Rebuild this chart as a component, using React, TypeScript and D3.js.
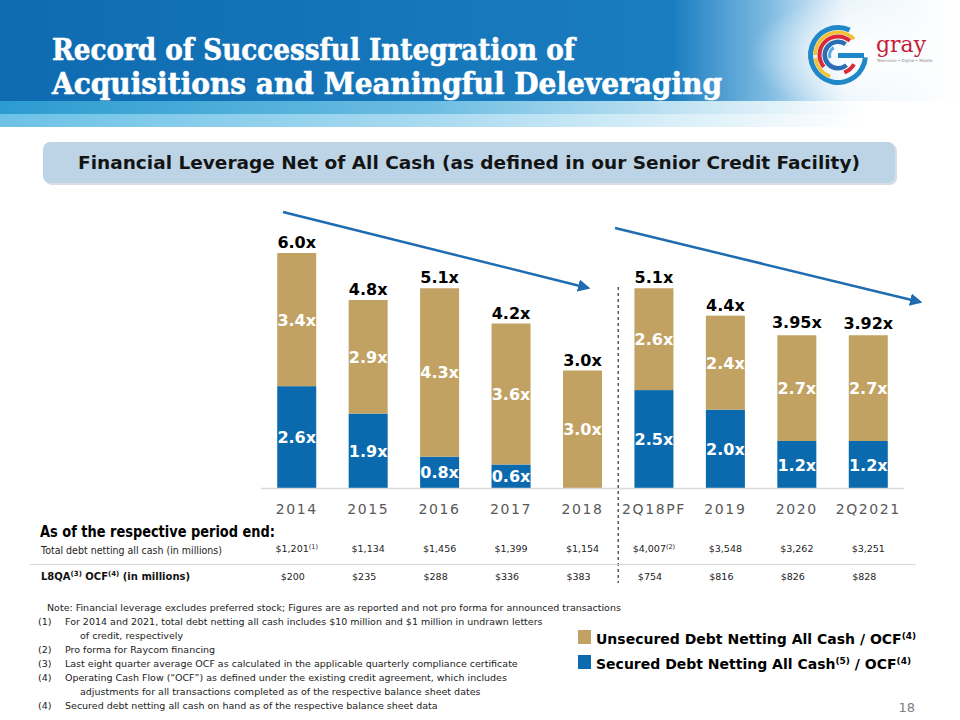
import React from "react";
import * as d3 from "d3";

const categories = ["2014", "2015", "2016", "2017", "2018", "2Q18PF", "2019", "2020", "2Q2021"];
const securedValues = [2.6, 1.9, 0.8, 0.6, 0, 2.5, 2.0, 1.2, 1.2];
const unsecuredValues = [3.4, 2.9, 4.3, 3.6, 3.0, 2.6, 2.4, 2.7, 2.7];
const totalValues = [6.0, 4.8, 5.1, 4.2, 3.0, 5.1, 4.4, 3.95, 3.92];
const totalLabels = ["6.0x", "4.8x", "5.1x", "4.2x", "3.0x", "5.1x", "4.4x", "3.95x", "3.92x"];
const totalDebt = ["$1,201", "$1,134", "$1,456", "$1,399", "$1,154", "$4,007", "$3,548", "$3,262", "$3,251"];
const totalDebtNotes = ["(1)", "", "", "", "", "(2)", "", "", ""];
const ocfValues = ["$200", "$235", "$288", "$336", "$383", "$754", "$816", "$826", "$828"];

const noteLines = [
  "Note: Financial leverage excludes preferred stock; Figures are as reported and not pro forma for announced transactions",
];
const footnotes = [
  ["(1)", "For 2014 and 2021, total debt netting all cash includes $10 million and $1 million in undrawn letters", "of credit, respectively"],
  ["(2)", "Pro forma for Raycom financing"],
  ["(3)", "Last eight quarter average OCF as calculated in the applicable quarterly compliance certificate"],
  ["(4)", "Operating Cash Flow (\u201cOCF\u201d) as defined under the existing credit agreement, which includes", "adjustments for all transactions completed as of the respective balance sheet dates"],
  ["(4)", "Secured debt netting all cash on hand as of the respective balance sheet data"],
];

const GOLD = "#C2A263";
const BLUE = "#0A6AAD";
const SANS = "'DejaVu Sans', Verdana, sans-serif";

export default function App() {
  const x = d3.scaleBand<string>().domain(categories).range([261, 904]).paddingInner(0.454).paddingOuter(0.227);
  const y = d3.scaleLinear().domain([0, 6]).range([488, 253]);
  const rows = categories.map((c, i) => ({ cat: c, secured: securedValues[i], unsecured: unsecuredValues[i] }));
  const stack = d3.stack<any>().keys(["secured", "unsecured"])(rows);
  const bw = x.bandwidth();
  const cx = (c: string) => (x(c) as number) + bw / 2;
  const dividerX = ((x("2018") as number) + bw + (x("2Q18PF") as number)) / 2;

  const arc = d3.arc<any>();
  const deg = (a: number) => (a * Math.PI) / 180;
  const logoArcs = [
    { r0: 25, r1: 30, a0: 95, a1: 385, c: "#1E88C8" },
    { r0: 21, r1: 24.5, a0: 270, a1: 405, c: "#F2C230" },
    { r0: 21, r1: 24.5, a0: 200, a1: 262, c: "#F2C230" },
    { r0: 16.5, r1: 20.5, a0: 230, a1: 400, c: "#D9293A" },
    { r0: 16.5, r1: 20.5, a0: 120, a1: 160, c: "#D9293A" },
    { r0: 11, r1: 15.5, a0: 140, a1: 395, c: "#2A6FB5" },
    { r0: 7, r1: 10, a0: 250, a1: 330, c: "#5AA9DE" },
  ];

  return (
    <svg width={960} height={720} style={{ position: "absolute", left: 0, top: 0 }} fontFamily={SANS}>
      <defs>
        <linearGradient id="hdr" x1="0" x2="1" y1="0" y2="0">
          <stop offset="0" stopColor="#0F6BB1" />
          <stop offset="0.7" stopColor="#1A7DC0" />
          <stop offset="0.8" stopColor="#7EBBE2" />
          <stop offset="0.88" stopColor="#EAF4FB" />
          <stop offset="1" stopColor="#FFFFFF" />
        </linearGradient>
        <linearGradient id="band1" x1="0" x2="1" y1="0" y2="0">
          <stop offset="0" stopColor="#2B9BD0" />
          <stop offset="0.45" stopColor="#6CBDE2" />
          <stop offset="0.9" stopColor="#FFFFFF" />
        </linearGradient>
        <linearGradient id="band2" x1="0" x2="1" y1="0" y2="0">
          <stop offset="0" stopColor="#6CC2E6" />
          <stop offset="0.45" stopColor="#A9DAF0" />
          <stop offset="0.9" stopColor="#FFFFFF" />
        </linearGradient>
        <radialGradient id="logobg" cx="0.5" cy="0.5" r="0.5">
          <stop offset="0" stopColor="#FFFFFF" />
          <stop offset="1" stopColor="#FFFFFF" stopOpacity="0" />
        </radialGradient>
        <marker id="arr" viewBox="0 0 10 10" refX="8" refY="5" markerWidth="5" markerHeight="5" orient="auto">
          <path d="M0,0 L10,5 L0,10 z" fill="#1F6CB0" />
        </marker>
      </defs>

      <rect x={0} y={0} width={960} height={101} fill="url(#hdr)" />
      <rect x={0} y={101} width={960} height={13} fill="url(#band1)" />
      <rect x={0} y={114} width={960} height={13} fill="url(#band2)" />
      <ellipse cx={860} cy={55} rx={110} ry={60} fill="url(#logobg)" />
      <text x={52} y={60} fill="#fff" stroke="#fff" strokeWidth={0.6} fontFamily="'DejaVu Serif', serif" fontWeight="bold" fontSize={29} textLength={523} lengthAdjust="spacingAndGlyphs">
        Record of Successful Integration of
      </text>
      <text x={52} y={94} fill="#fff" stroke="#fff" strokeWidth={0.6} fontFamily="'DejaVu Serif', serif" fontWeight="bold" fontSize={29} textLength={670} lengthAdjust="spacingAndGlyphs">
        Acquisitions and Meaningful Deleveraging
      </text>

      <g transform="translate(838,55)">
        {logoArcs.map((a, i) => (
          <path key={i} d={arc({ innerRadius: a.r0, outerRadius: a.r1, startAngle: deg(a.a0), endAngle: deg(a.a1) }) as string} fill={a.c} />
        ))}
        <rect x={0} y={-2} width={26} height={5} fill="#1E88C8" />
      </g>
      <text x={876} y={52} fill="#C41E3A" fontFamily="'DejaVu Serif', serif" fontSize={22}>gray</text>
      <text x={877} y={62} fill="#8a8a8a" fontSize={4}>Television • Digital • Mobile</text>

      <rect x={45} y={144} width={852} height={41} rx={7} fill="#D5DDE6" />
      <rect x={43} y={142} width={852} height={41} rx={7} fill="#BDD4E7" />
      <text x={469} y={169} textAnchor="middle" fontWeight="bold" fontSize={18} fill="#141414" textLength={782} lengthAdjust="spacingAndGlyphs">
        Financial Leverage Net of All Cash (as defined in our Senior Credit Facility)
      </text>

      <line x1={283} y1={212} x2={588} y2={288} stroke="#1F6CB0" strokeWidth={2.5} markerEnd="url(#arr)" />
      <line x1={615} y1={228} x2={920} y2={302} stroke="#1F6CB0" strokeWidth={2.5} markerEnd="url(#arr)" />

      {stack.map((s, si) => (
        <g key={s.key} fill={si === 0 ? BLUE : GOLD}>
          {s.map((d, i) =>
            d[1] - d[0] > 0 ? (
              <rect key={i} x={x(categories[i])} y={y(d[1])} width={bw} height={y(d[0]) - y(d[1])} />
            ) : null
          )}
        </g>
      ))}
      {stack.map((s) =>
        s.map((d, i) =>
          d[1] - d[0] > 0 ? (
            <text key={s.key + i} x={cx(categories[i])} y={(y(d[0]) + y(d[1])) / 2 + 6} textAnchor="middle" fill="#fff" fontWeight="bold" fontSize={16}>
              {(d[1] - d[0]).toFixed(1)}x
            </text>
          ) : null
        )
      )}
      {categories.map((c, i) => (
        <text key={c} x={cx(c)} y={y(totalValues[i]) - 5} textAnchor="middle" fill="#000" fontWeight="bold" fontSize={16}>
          {totalLabels[i]}
        </text>
      ))}

      <line x1={261} x2={904} y1={488.5} y2={488.5} stroke="#D9D9D9" strokeWidth={1.5} />
      {categories.map((c) => (
        <text key={c} x={cx(c)} y={514} textAnchor="middle" fill="#595959" fontSize={14} letterSpacing={1.6}>
          {c}
        </text>
      ))}

      <line x1={dividerX} x2={dividerX} y1={287} y2={583} stroke="#404040" strokeWidth={1.3} strokeDasharray="3,3" />

      <text x={40} y={537} fontWeight="bold" fontSize={15.5} fill="#000" textLength={235} lengthAdjust="spacingAndGlyphs">As of the respective period end:</text>
      <text x={41} y={554} fontSize={10} fill="#222" textLength={181} lengthAdjust="spacingAndGlyphs">Total debt netting all cash (in millions)</text>
      <line x1={30} x2={916} y1={564.5} y2={564.5} stroke="#D9D9D9" strokeWidth={1} />
      <text x={41} y={580} fontSize={10} fontWeight="bold" fill="#111">
        L8QA<tspan fontSize={7} dy={-4}>(3)</tspan><tspan dy={4}> OCF</tspan><tspan fontSize={7} dy={-4}>(4)</tspan><tspan dy={4}> (in millions)</tspan>
      </text>
      {categories.map((c, i) => (
        <text key={c} x={cx(c)} y={552} textAnchor="middle" fontSize={9.5} fill="#222">
          {totalDebt[i]}
          {totalDebtNotes[i] ? <tspan fontSize={6.5} dy={-3.5}>{totalDebtNotes[i]}</tspan> : null}
        </text>
      ))}
      {categories.map((c, i) => (
        <text key={c} x={cx(c) - 4} y={580} textAnchor="middle" fontSize={9.5} fill="#222">
          {ocfValues[i]}
        </text>
      ))}

      <g fontSize={9.5} fill="#222">
        <text x={47} y={611}>{noteLines[0]}</text>
        {(() => {
          let yy = 625;
          const out: any[] = [];
          footnotes.forEach((f, fi) => {
            out.push(<text key={"n" + fi} x={38} y={yy}>{f[0]}</text>);
            out.push(<text key={"t" + fi} x={65} y={yy}>{f[1]}</text>);
            yy += 14;
            if (f[2]) {
              out.push(<text key={"c" + fi} x={80} y={yy}>{f[2]}</text>);
              yy += 14;
            }
          });
          return out;
        })()}
      </g>

      <rect x={578} y={630} width={13} height={14} fill={GOLD} />
      <rect x={578} y={655} width={13} height={14} fill={BLUE} />
      <text x={596} y={644} fontWeight="bold" fontSize={14} fill="#000">
        Unsecured Debt Netting All Cash / OCF<tspan fontSize={9} dy={-5}>(4)</tspan>
      </text>
      <text x={596} y={669} fontWeight="bold" fontSize={14} fill="#000">
        Secured Debt Netting All Cash<tspan fontSize={9} dy={-5}>(5)</tspan><tspan dy={5}> / OCF</tspan><tspan fontSize={9} dy={-5}>(4)</tspan>
      </text>
      <text x={915} y={712} textAnchor="end" fontSize={13} fill="#808080">18</text>
    </svg>
  );
}
